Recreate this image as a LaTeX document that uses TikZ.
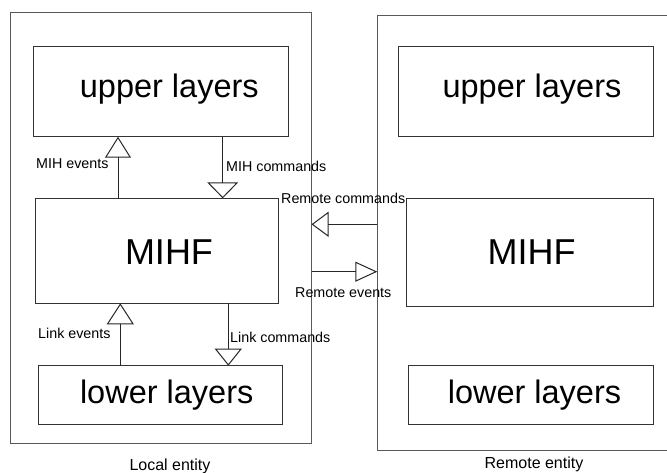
\documentclass[tikz,border=0pt]{standalone}
\usepackage{fontspec}
\setmainfont{Liberation Sans}
\usetikzlibrary{arrows.meta}

\begin{document}
\begin{tikzpicture}[
  x=1pt, y=-1pt,
  entity/.style={draw=black!65, line width=1pt, inner sep=0pt, outer sep=0pt},
  layer/.style={draw=black!80, line width=1pt, inner sep=0pt, outer sep=0pt},
  bigtext/.style={font=\fontsize{32.5}{39}\selectfont, inner sep=0pt, anchor=base},
  mihftext/.style={font=\fontsize{36}{43}\selectfont, inner sep=0pt, anchor=base},
  smalltext/.style={font=\fontsize{14.3}{17}\selectfont, inner sep=0pt, anchor=base west},
  entitytext/.style={font=\fontsize{16}{19}\selectfont, inner sep=0pt, anchor=base},
  flow/.style 2 args={draw=black!85, line width=1pt,
    -{Triangle[open, length=#1pt, width=#2pt]}}
]
\useasboundingbox (0,0) rectangle (667,473);

% entity frames
\node[entity, minimum width=301.5pt, minimum height=430pt] (lent) at (160.75,228) {};
\node[entity, minimum width=330pt, minimum height=435pt] (rent) at (542.3,233.2) {};

% local entity layers
\node[layer, minimum width=255pt, minimum height=90pt] (lup) at (160.5,91.7) {};
\node[layer, minimum width=242.3pt, minimum height=105pt] (lmihf) at (156.85,250.8) {};
\node[layer, minimum width=244.4pt, minimum height=58.6pt] (llo) at (160.5,395) {};

% remote entity layers
\node[layer, minimum width=255pt, minimum height=90pt] (rup) at (525.8,91.7) {};
\node[layer, minimum width=246.6pt, minimum height=107pt] (rmihf) at (530,252.5) {};
\node[layer, minimum width=245pt, minimum height=59.3pt] (rlo) at (530.8,395.3) {};

% layer captions
\node[bigtext] (lupt) at (169.3,97.5) {upper layers};
\node[mihftext] (lmihft) at (169,264.3) {MIHF};
\node[bigtext] (llot) at (166.7,403.3) {lower layers};
\node[bigtext] (rupt) at (532,97.5) {upper layers};
\node[mihftext] (rmihft) at (531.5,265) {MIHF};
\node[bigtext] (rlot) at (534.5,403.3) {lower layers};

% entity captions
\node[entitytext] (lentt) at (170,470) {Local entity};
\node[entitytext] (rentt) at (534,468.8) {Remote entity};

% connector positions
\coordinate (xme) at (118,0);
\coordinate (xmc) at (222.7,0);
\coordinate (xle) at (120.3,0);
\coordinate (xlc) at (228.3,0);
\coordinate (yrc) at (0,224.3);
\coordinate (yre) at (0,271.7);

% primitives between layers
\draw[flow={21}{26}] (lmihf.north -| xme) -- (lup.south -| xme);
\draw[flow={16}{31}] (lup.south -| xmc) -- (lmihf.north -| xmc);
\draw[flow={21}{27}] (llo.north -| xle) -- (lmihf.south -| xle);
\draw[flow={17}{27}] (lmihf.south -| xlc) -- (llo.north -| xlc);

% remote primitives
\draw[flow={17}{25}] (rent.west |- yrc) -- (lent.east |- yrc);
\draw[flow={22}{20}] (lent.east |- yre) -- (rent.west |- yre);

% primitive labels
\node[smalltext] (lme) at (36,169) {MIH events};
\node[smalltext] (lmc) at (226,172) {MIH commands};
\node[smalltext] (lrc) at (281,204) {Remote commands};
\node[smalltext] (lre) at (295,298) {Remote events};
\node[smalltext] (lle) at (38,338.3) {Link events};
\node[smalltext] (llc) at (230,342.3) {Link commands};
\end{tikzpicture}
\end{document}
